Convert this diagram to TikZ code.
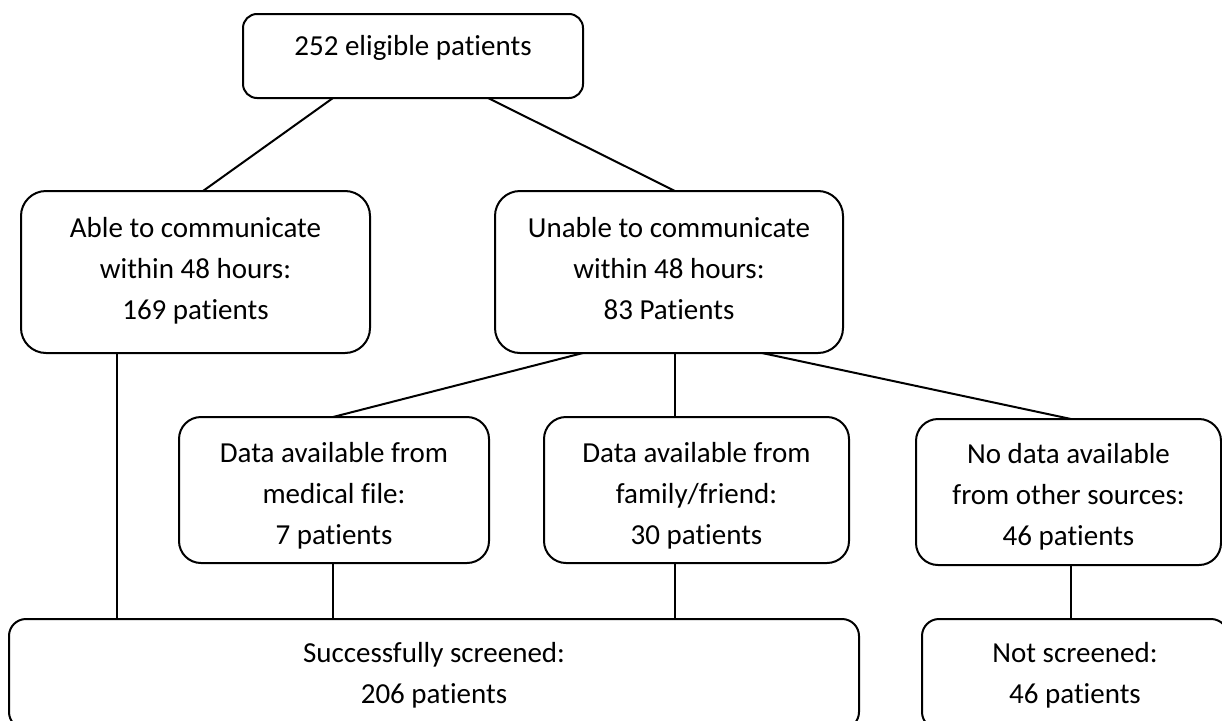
\documentclass[tikz,border=0pt]{standalone}
\usepackage{fontspec}
\setmainfont{Carlito}[Ligatures={NoCommon,NoRequired,NoContextual}]

% Top-aligned, centred box text: width, height, first baseline offset, lines
\newcommand\flowtext[4]{\parbox[c][#2][t]{#1}{\centering\fontsize{29pt}{41pt}\selectfont\rule{0pt}{#3}#4}}

\tikzset{
  box/.style={draw=black, line width=2pt, inner sep=0pt, outer sep=0pt},
  link/.style={draw=black, line width=2pt},
}

\begin{document}
\begin{tikzpicture}[x=1pt, y=-1pt]
  \clip (0,0) rectangle (1222,720);
  \fill[white] (0,0) rectangle (1222,720);

  % boxes
  \node[box, rounded corners=14pt] (top) at (413,56)
    {\flowtext{340pt}{84pt}{41pt}{252 eligible patients}};
  \node[box, rounded corners=25pt] (able) at (195.5,272)
    {\flowtext{349pt}{162pt}{46pt}{Able to communicate\\within 48 hours:\\169 patients}};
  \node[box, rounded corners=25pt] (unable) at (669,272)
    {\flowtext{348pt}{162pt}{46pt}{Unable to communicate\\within 48 hours:\\83 Patients}};
  \node[box, rounded corners=22pt] (medical) at (334,490)
    {\flowtext{310pt}{146pt}{45pt}{Data available from\\medical file:\\7 patients}};
  \node[box, rounded corners=22pt] (family) at (696.5,490)
    {\flowtext{305pt}{146pt}{45pt}{Data available from\\family/friend:\\30 patients}};
  \node[box, rounded corners=22pt] (nodata) at (1068.5,492)
    {\flowtext{305pt}{146pt}{44pt}{No data available\\from other sources:\\46 patients}};
  \node[box, rounded corners=17pt] (screened) at (434,674)
    {\flowtext{850pt}{110pt}{43pt}{Successfully screened:\\206 patients}};
  \node[box, rounded corners=17pt] (notscr) at (1075,674)
    {\flowtext{306pt}{110pt}{43pt}{Not screened:\\46 patients}};

  % connectors
  \draw[link] ([xshift=-80pt]top.south) -- ([xshift=7.5pt]able.north);
  \draw[link] ([xshift=75pt]top.south) -- ([xshift=6pt]unable.north);
  \draw[link] ([xshift=-86pt]unable.south) -- ([xshift=-1pt]medical.north);
  \draw[link] ([xshift=6pt]unable.south) -- ([xshift=-21.5pt]family.north);
  \draw[link] ([xshift=93pt]unable.south) -- ([xshift=2.5pt]nodata.north);
  \draw[link] ([xshift=-78.5pt]able.south) -- ([xshift=-78.5pt]able.south |- screened.north);
  \draw[link] ([xshift=-1pt]medical.south) -- ([xshift=-1pt]medical.south |- screened.north);
  \draw[link] ([xshift=-21.5pt]family.south) -- ([xshift=-21.5pt]family.south |- screened.north);
  \draw[link] ([xshift=2.5pt]nodata.south) -- ([xshift=2.5pt]nodata.south |- notscr.north);
\end{tikzpicture}
\end{document}
